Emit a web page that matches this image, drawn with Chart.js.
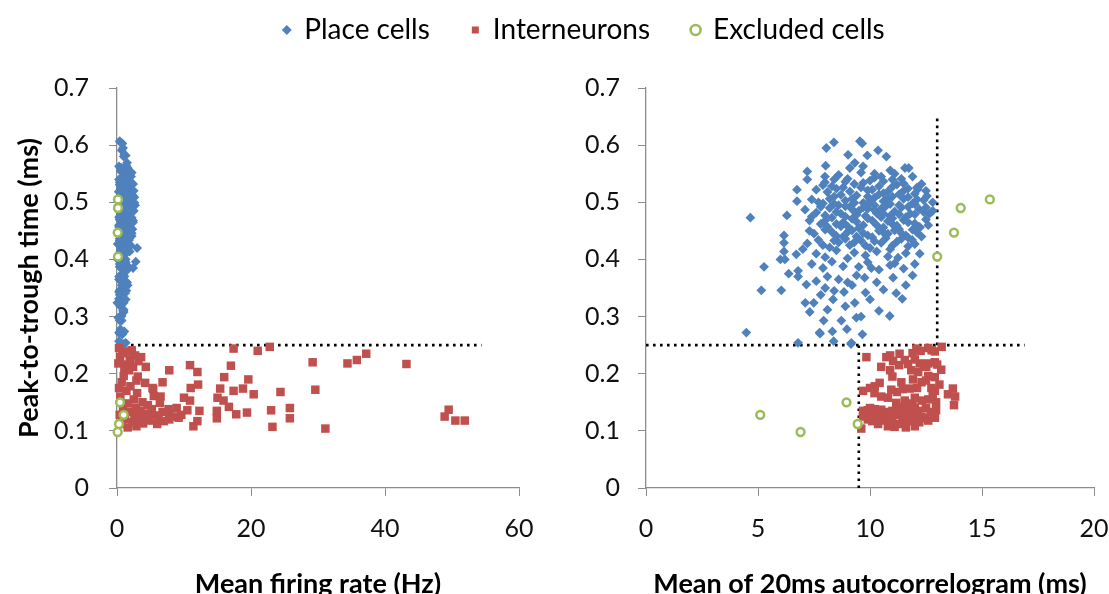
<!DOCTYPE html>
<html><head><meta charset="utf-8">
<script src="https://cdn.jsdelivr.net/npm/chart.js@4"></script>
<style>
html,body{margin:0;padding:0;background:#fff;width:1109px;height:594px;overflow:hidden;position:relative;}
canvas{position:absolute;}
</style></head><body>
<canvas id="legendChart" width="1109" height="300" style="left:0;top:-26px"></canvas>
<canvas id="leftChart" width="540" height="594" style="left:0;top:0"></canvas>
<canvas id="rightChart" width="575" height="594" style="left:540px;top:0"></canvas>
<script>
const seriesNames = ['Place cells', 'Interneurons', 'Excluded cells'];
const yTickLabels = ['0', '0.1', '0.2', '0.3', '0.4', '0.5', '0.6', '0.7'];
const rateTickLabels = ['0', '20', '40', '60'];
const acgTickLabels = ['0', '5', '10', '15', '20'];
const yTitle = 'Peak-to-trough time (ms)';
const rateTitle = 'Mean firing rate (Hz)';
const acgTitle = 'Mean of 20ms autocorrelogram (ms)';

// thresholds (dotted lines)
const troughThreshold = 0.25;
const rateLineEnd = 54.4;
const acgLineEnd = 16.9;
const acgPlaceLimit = 13;
const acgPlaceLineTop = 0.648;
const acgInterLimit = 9.5;

// Place cells: peak-to-trough (ms), mean autocorrelogram (ms), mean firing rate (Hz)
const placeTrough = [0.473,0.272,0.346,0.387,0.346,0.477,0.442,0.429,0.414,0.400,0.400,0.375,0.522,0.502,0.254,0.380,0.370,0.409,0.324,0.308,0.324,0.356,0.272,0.293,0.274,0.257,0.293,0.254,0.298,0.269,0.324,0.330,0.345,0.343,0.360,0.355,0.368,0.385,0.387,0.301,0.341,0.331,0.368,0.390,0.393,0.403,0.423,0.410,0.434,0.456,0.480,0.511,0.523,0.560,0.560,0.580,0.591,0.582,0.607,0.603,0.583,0.605,0.595,0.564,0.554,0.540,0.545,0.535,0.569,0.563,0.550,0.545,0.550,0.560,0.278,0.252,0.270,
0.548,0.541,0.552,0.538,0.556,0.541,0.545,0.528,0.522,0.518,0.526,0.532,0.521,0.528,0.519,0.531,0.524,0.532,0.515,0.505,0.498,0.510,0.503,0.512,0.499,0.508,0.502,0.510,0.506,0.498,0.504,0.500,0.495,0.487,0.482,0.490,0.480,0.492,0.485,0.489,0.481,0.493,0.484,0.491,0.480,0.488,0.497,0.476,0.468,0.462,0.473,0.465,0.471,0.460,0.468,0.474,0.462,0.469,0.463,0.470,0.478,0.456,0.445,0.452,0.441,0.448,0.455,0.442,0.450,0.445,0.453,0.442,0.447,0.458,0.428,0.434,0.421,0.430,0.425,0.433,0.420,0.429,0.424,0.436,0.427,0.410,0.404,0.416,0.402,0.412,0.407,0.414,0.405,0.411,0.418,0.392,0.385,0.396,0.388,0.395,0.382,0.384,0.392,0.370,0.362,0.350,0.365,0.372,0.360,0.347,0.372,0.338,0.342,0.355,0.330,0.318,0.310,0.300,0.312,
0.536,0.534,0.537,0.533,0.543,0.524,0.519,0.526,0.522,0.516,0.527,0.520,0.526,0.506,0.513,0.506,0.510,0.514,0.507,0.514,0.509,0.505,0.504,0.492,0.497,0.493,0.499,0.491,0.495,0.489,0.497,0.495,0.492,0.497,0.491,0.477,0.483,0.475,0.484,0.476,0.486,0.480,0.472,0.479,0.474,0.479,0.483,0.468,0.462,0.458,0.466,0.472,0.460,0.467,0.459,0.465,0.457,0.457,0.448,0.440,0.451,0.446,0.439,0.447,0.451,0.446,0.452,0.440,0.425,0.433,0.436,0.430,0.424,0.432,0.437,0.431,0.438,0.418,0.475,0.450,0.500,0.460,0.485,0.440,0.530,0.540,0.520,0.540];
const placeAcg = [4.66,4.48,5.15,5.27,6.04,6.29,6.16,6.16,6.16,6.0,6.2,6.37,6.74,6.74,6.79,6.79,6.79,6.71,7.11,7.31,7.49,7.16,7.75,7.93,8.32,8.38,8.72,9.17,9.39,9.66,9.32,8.35,8.4,8.84,9.0,9.2,9.76,10.06,9.5,10.88,11.17,11.44,11.03,10.9,11.1,11.25,11.7,12.22,11.88,12.23,12.66,12.54,12.14,11.73,11.56,10.73,10.36,9.88,9.55,9.65,9.02,8.39,8.05,8.02,7.2,7.2,7.99,7.99,9.32,9.69,10.2,10.5,11.1,9.1,8.97,9.15,7.77,
8.6,9.0,9.6,10.0,10.9,11.4,11.9,8.3,7.6,8.1,8.8,9.3,9.9,10.4,10.8,11.2,11.7,12.3,12.0,7.4,7.9,8.4,8.9,9.4,9.7,10.2,10.6,11.0,11.5,11.9,12.4,12.8,8.6,7.1,7.6,8.2,8.7,9.1,9.5,9.9,10.3,10.7,11.1,11.4,11.8,12.2,10.0,10.9,7.3,7.8,8.3,8.8,9.2,9.7,10.1,10.5,11.0,11.5,12.0,12.5,9.4,10.6,7.5,8.0,8.5,9.0,9.5,9.9,10.4,10.8,11.3,11.6,12.1,8.7,7.2,7.7,8.2,8.6,9.1,9.6,10.0,10.5,11.0,11.4,12.0,7.6,8.0,8.5,9.0,9.3,9.8,10.3,10.8,11.6,7.0,7.4,7.9,8.3,8.8,9.9,10.4,11.5,12.0,8.1,7.6,8.0,8.6,9.4,10.3,10.6,11.9,7.8,9.8,11.6,10.0,8.9,10.4,9.6,8.1,
8.9,9.7,10.6,11.5,10.2,8.5,9.1,9.6,10.1,10.6,11.0,11.5,12.1,8.2,8.7,9.2,9.9,10.4,10.8,11.3,11.7,12.1,10.0,7.8,8.4,8.9,9.3,9.7,10.2,10.5,10.9,11.3,11.7,12.0,12.5,8.0,8.5,8.9,9.3,9.8,10.2,10.6,11.0,11.3,11.6,12.0,12.4,8.0,8.5,9.0,9.4,9.9,10.3,10.8,11.2,11.7,12.2,8.1,8.3,8.8,9.2,9.7,10.1,10.6,11.1,11.4,11.9,9.4,7.9,8.4,8.9,9.3,9.8,10.2,10.7,11.2,11.7,10.9,7.4,7.3,7.7,12.6,12.8,12.3,7.9,8.4,12.5,11.0];
const placeRate = [0.6,0.3,0.9,1.2,0.4,1.5,0.7,1.0,0.5,1.3,0.1,0.8,1.1,0.4,0.6,1.4,0.3,0.9,0.5,1.0,0.05,1.2,0.9,0.4,1.1,0.3,0.7,1.3,0.2,0.8,1.0,0.6,1.4,0.3,0.9,1.6,0.5,1.1,0.4,0.7,1.2,0.3,0.8,1.5,0.6,1.0,1.7,0.4,1.2,0.8,1.9,1.3,0.6,1.6,0.5,1.0,0.7,1.3,0.4,0.8,1.1,0.5,0.9,1.4,0.6,1.2,1.8,0.4,1.5,0.3,2.0,0.9,1.3,0.7,0.5,1.0,0.4,
1.7,0.5,2.2,1.0,0.6,1.4,2.1,0.8,1.6,0.3,1.2,2.3,0.7,1.5,1.9,0.4,1.1,2.4,0.9,0.1,1.3,2.0,0.6,1.7,2.6,0.8,1.4,2.2,0.5,1.0,1.8,0.3,2.7,1.2,0.6,2.1,1.5,0.9,2.5,0.4,1.8,1.1,2.3,0.7,1.6,2.0,1.3,0.5,1.4,0.8,2.2,1.0,1.7,0.3,2.4,1.2,0.6,1.9,1.0,0.4,1.5,2.0,0.9,1.6,2.2,0.5,1.3,1.9,0.7,1.1,2.3,0.4,1.4,0.8,1.2,1.8,0.6,1.0,2.0,0.4,3.0,1.5,0.9,1.3,0.1,1.1,0.5,1.6,0.8,1.2,0.3,1.9,0.7,1.4,0.6,1.0,2.4,2.8,0.5,1.3,0.8,1.7,0.4,1.1,0.6,1.2,0.3,0.9,1.5,0.6,1.0,0.4,1.1,0.7,1.3,0.5,0.9,0.4,1.0,
0.9,1.4,0.6,1.9,1.1,1.5,0.3,1.8,2.1,0.7,1.2,2.5,0.6,1.0,2.0,0.4,1.6,2.2,0.9,1.4,2.6,0.5,1.9,0.7,1.3,2.4,0.8,1.5,0.2,2.0,1.0,1.7,0.6,2.2,1.1,1.8,0.4,1.2,2.3,0.9,1.4,0.6,2.0,1.1,0.3,1.6,0.8,0.5,1.9,0.7,1.3,2.1,0.4,1.5,0.9,2.4,1.2,0.3,1.4,0.6,2.0,1.0,1.7,0.5,1.2,2.2,0.8,1.4,0.9,1.6,0.4,1.1,2.0,0.7,1.4,0.5,1.8,1.0,0.6,1.1,0.4,1.3,0.7,1.0,0.5,1.2,0.9,0.3];

// Interneurons
const interTrough = [0.244,0.240,0.247,0.215,0.203,0.206,0.214,0.194,0.212,0.185,0.181,0.175,0.174,0.190,0.174,0.170,0.164,0.168,0.158,0.153,0.158,0.153,0.173,0.184,0.161,0.149,0.138,0.136,0.135,0.135,0.142,0.129,0.132,0.136,0.140,0.122,0.107,0.122,0.117,0.108,0.130,0.120,0.120,0.235,0.224,0.218,0.220,0.217,0.172,0.104,0.137,0.125,0.118,0.118,0.229,0.239,0.232,0.222,0.216,0.207,0.206,0.185,0.175,0.245,0.236,0.241,0.218,0.212,0.229,0.196,0.178,0.170,0.166,0.160,0.155,0.150,0.148,0.145,0.142,0.140,0.138,0.135,0.133,0.133,0.130,0.128,0.127,0.127,0.125,0.122,0.121,0.118,0.117,0.123,0.115,0.113,0.112,0.112,0.106,0.108,0.125,0.140,0.128,0.160,0.195,0.225,0.188,0.175];
const interRate = [17.4,21.0,22.8,10.9,12.0,7.8,17.0,16.0,4.3,6.8,12.1,11.0,15.4,19.6,18.8,17.4,20.4,24.4,15.0,15.9,10.0,10.9,5.4,4.2,5.5,6.4,7.7,10.5,12.3,14.9,16.7,17.8,19.4,23.0,25.8,25.8,23.2,14.9,12.0,11.4,7.8,7.8,6.2,37.2,35.8,34.4,29.2,43.2,29.6,31.1,49.5,48.9,50.5,51.9,0.45,1.5,2.7,3.2,1.3,1.1,1.8,0.7,5.3,0.3,0.8,2.2,0.2,2.4,3.6,1.0,2.0,1.4,3.0,0.5,2.5,3.8,1.6,4.6,0.9,2.8,5.2,3.5,1.9,6.8,4.4,0.4,2.6,5.8,8.4,3.4,1.2,4.8,7.0,9.2,2.3,3.9,0.7,6.0,1.6,2.9,4.6,8.9,9.6,6.5,3.1,1.9,2.9,0.3];
const interAcg = [12.07,12.26,13.2,11.3,12.15,11.84,12.4,12.89,10.5,12.3,13.1,12.74,11.77,11.92,13.7,9.69,13.48,11.2,12.0,12.3,10.8,11.55,11.47,10.43,12.8,11.17,10.21,9.9,9.69,11.0,11.55,10.65,11.77,12.95,12.5,12.44,11.1,12.07,11.7,10.8,11.4,9.9,11.0,11.32,11.55,12.22,12.89,11.7,10.95,9.61,10.5,9.69,12.6,11.45,9.84,12.89,10.9,11.03,13.0,13.18,10.9,11.4,12.1,12.6,11.9,12.75,12.6,12.51,10.73,12.6,10.21,12.9,10.2,10.5,12.6,12.95,11.9,13.75,11.3,12.0,11.9,12.15,10.8,12.7,10.3,10.06,10.95,11.6,12.3,10.4,11.9,10.6,10.1,12.9,12.2,10.9,10.36,11.25,11.6,12.0,12.85,10.0,11.15,13.8,11.0,12.0,12.5,10.0];

// Excluded cells
const exclTrough = [0.505, 0.490, 0.447, 0.405, 0.150, 0.128, 0.112, 0.098];
const exclRate = [0.15, 0.15, 0.1, 0.15, 0.45, 1.0, 0.3, 0.1];
const exclAcg = [15.35, 14.05, 13.75, 13.0, 8.95, 5.1, 9.45, 6.9];

const BLUE = '#4F81BD', RED = '#C0504D', GREEN = '#9BBB59';
const FONT = 'Lato, "Liberation Sans", sans-serif';
const TEXT = '#111';
const AXIS = '#8c8c8c';
const TICK_SIZE = 25;
const TITLE_SIZE = 27;

function pts(xs, ys) { return ys.map((y, i) => ({x: xs[i], y})); }

function seriesStyles() {
  return [
    {label: seriesNames[2], pointStyle: 'circle', pointRadius: 3.9, pointBorderWidth: 2.5, borderWidth: 2.5,
     backgroundColor: '#ffffff', borderColor: GREEN, pointBackgroundColor: '#ffffff', pointBorderColor: GREEN},
    {label: seriesNames[1], pointStyle: 'rect', pointRadius: 6, pointBorderWidth: 0, borderWidth: 0,
     backgroundColor: RED, borderColor: RED, pointBackgroundColor: RED},
    {label: seriesNames[0], pointStyle: 'rectRot', pointRadius: 4.9, pointBorderWidth: 0, borderWidth: 0,
     backgroundColor: BLUE, borderColor: BLUE, pointBackgroundColor: BLUE}
  ];
}

function dotted(points) {
  return {type: 'line', data: points, borderColor: '#000', borderWidth: 2.6, borderDash: [2.6, 4.4],
          pointRadius: 0, fill: false, clip: false, showLine: true};
}

function yScale(withTitle, width, pad) {
  return {
    type: 'linear', min: 0, max: 0.7,
    ticks: {stepSize: 0.1, color: TEXT, font: {family: FONT, size: TICK_SIZE}, padding: pad,
            callback: (v, i) => yTickLabels[i]},
    grid: {drawOnChartArea: false, drawTicks: true, tickLength: 8, color: AXIS, lineWidth: 1},
    border: {display: true, color: AXIS, width: 1.3},
    title: {display: withTitle, text: yTitle, color: '#000',
            font: {family: FONT, size: TITLE_SIZE, weight: 'bold', lineHeight: 1.2},
            padding: {top: 13, bottom: 0}},
    afterFit: s => { s.width = width; }
  };
}

function xScale(max, step, labels, title) {
  return {
    type: 'linear', min: 0, max: max,
    ticks: {stepSize: step, color: TEXT, font: {family: FONT, size: TICK_SIZE, lineHeight: 2.4}, padding: 3,
            callback: (v, i) => labels[i], maxRotation: 0},
    grid: {drawOnChartArea: false, drawTicks: true, tickLength: 8, color: AXIS, lineWidth: 1},
    border: {display: true, color: AXIS, width: 1.3},
    title: {display: true, text: title, color: '#000',
            font: {family: FONT, size: TITLE_SIZE, weight: 'bold', lineHeight: 0.74},
            padding: {top: 0, bottom: 0}},
    afterFit: s => { s.height = 106; }
  };
}

const st = seriesStyles();
const common = {responsive: false, animation: false, events: [],
  plugins: {legend: {display: false}, tooltip: {enabled: false}}};

new Chart(document.getElementById('leftChart'), {
  type: 'scatter',
  data: {datasets: [
    Object.assign({}, st[0], {data: pts(exclRate, exclTrough), clip: false}),
    Object.assign({}, st[1], {data: pts(interRate, interTrough), clip: false}),
    Object.assign({}, st[2], {data: pts(placeRate, placeTrough), clip: false}),
    dotted([{x: 0, y: troughThreshold}, {x: rateLineEnd, y: troughThreshold}])
  ]},
  options: Object.assign({}, common, {
    layout: {padding: {top: 88, right: 21, bottom: 0, left: 0}},
    scales: {x: xScale(60, 20, rateTickLabels, rateTitle), y: yScale(true, 117, 20)}
  })
});

new Chart(document.getElementById('rightChart'), {
  type: 'scatter',
  data: {datasets: [
    Object.assign({}, st[0], {data: pts(exclAcg, exclTrough), clip: false}),
    Object.assign({}, st[1], {data: pts(interAcg, interTrough), clip: false}),
    Object.assign({}, st[2], {data: pts(placeAcg, placeTrough), clip: false}),
    dotted([{x: 0, y: troughThreshold}, {x: acgLineEnd, y: troughThreshold}]),
    dotted([{x: acgPlaceLimit, y: troughThreshold}, {x: acgPlaceLimit, y: acgPlaceLineTop}]),
    dotted([{x: acgInterLimit, y: 0}, {x: acgInterLimit, y: troughThreshold}])
  ]},
  options: Object.assign({}, common, {
    layout: {padding: {top: 88, right: 21, bottom: 0, left: 0}},
    scales: {x: xScale(20, 5, acgTickLabels, acgTitle), y: yScale(false, 106, 18)}
  })
});

new Chart(document.getElementById('legendChart'), {
  type: 'scatter',
  data: {datasets: [
    Object.assign({}, st[2], {data: []}),
    Object.assign({}, st[1], {data: []}),
    Object.assign({}, st[0], {data: []})
  ]},
  options: Object.assign({}, common, {
    layout: {padding: {left: 59, top: 0}},
    scales: {x: {display: false}, y: {display: false}},
    plugins: {tooltip: {enabled: false}, legend: {display: true, position: 'top',
      labels: {usePointStyle: true, boxWidth: 7, boxHeight: 7, padding: 42, color: '#000',
               font: {family: FONT, size: 28}}}}
  })
});
</script>
</body></html>
